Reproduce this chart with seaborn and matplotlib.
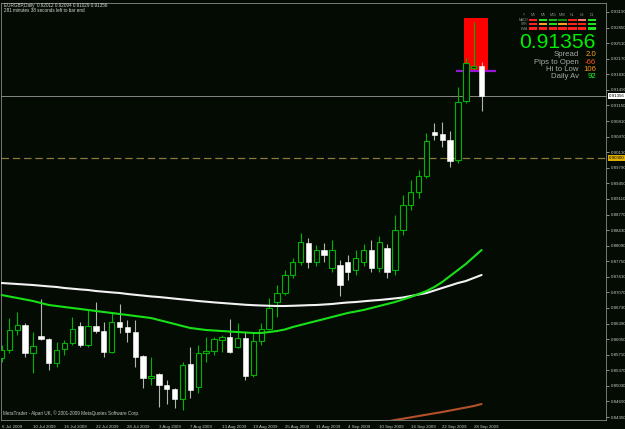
import matplotlib
matplotlib.use("Agg")
import matplotlib.pyplot as plt
from matplotlib.patches import Rectangle
import numpy as np
import pandas as pd
import seaborn as sns

# ---------------- data ----------------
title_text = "EURGBP,Daily  0.92012 0.92094 0.91029 0.91356"
timer_text = "281 minutes 38 seconds left to bar end"
copyright_text = "MetaTrader - Alpari UK, \u00a9 2001-2009 MetaQuotes Software Corp."

date_labels = ["6 Jul 2009", "10 Jul 2009", "16 Jul 2009", "22 Jul 2009", "28 Jul 2009",
               "3 Aug 2009", "7 Aug 2009", "13 Aug 2009", "19 Aug 2009", "25 Aug 2009",
               "31 Aug 2009", "4 Sep 2009", "10 Sep 2009", "16 Sep 2009", "22 Sep 2009",
               "28 Sep 2009"]
date_label_bars = [0, 4, 8, 12, 16, 20, 24, 28, 32, 36, 40, 44, 48, 52, 56, 60]

price_labels = ["0.93190", "0.92850", "0.92510", "0.92170", "0.91830", "0.91490", "0.91150",
                "0.90810", "0.90470", "0.90130", "0.89790", "0.89450", "0.89110", "0.88770",
                "0.88430", "0.88090", "0.87750", "0.87410", "0.87070", "0.86730", "0.86390",
                "0.86050", "0.85710", "0.85370", "0.85030", "0.84690", "0.84350"]

opens = [0.85638, 0.85812, 0.86249, 0.86358, 0.85747, 0.86118, 0.86053, 0.85529, 0.85834, 0.85965,
         0.86336, 0.85922, 0.86336, 0.86227, 0.85768, 0.86423, 0.86314, 0.86205, 0.85681, 0.85201,
         0.85289, 0.85049, 0.84961, 0.84743, 0.85507, 0.85005, 0.85747, 0.85790, 0.86031, 0.86096,
         0.85878, 0.86075, 0.85267, 0.86009, 0.86271, 0.86860, 0.87057, 0.87450, 0.87733, 0.88147,
         0.87733, 0.87995, 0.87602, 0.87668, 0.87733, 0.87559, 0.87733, 0.87995, 0.87602, 0.88039,
         0.87559, 0.88432, 0.88977, 0.89261, 0.89610, 0.90571, 0.90527, 0.90396, 0.89960, 0.91248,
         0.91960, 0.92012]
highs = [0.85922, 0.86511, 0.86642, 0.86402, 0.86205, 0.86926, 0.86075, 0.85987, 0.86031, 0.86532,
         0.86423, 0.86686, 0.86860, 0.86423, 0.86621, 0.86817, 0.86467, 0.86467, 0.85703, 0.85659,
         0.85311, 0.85158, 0.84983, 0.85550, 0.85878, 0.85922, 0.86096, 0.86096, 0.86140, 0.86489,
         0.86402, 0.86205, 0.86184, 0.86402, 0.86948, 0.87231, 0.87559, 0.87820, 0.88366, 0.88257,
         0.88104, 0.88147, 0.88213, 0.87777, 0.87886, 0.87995, 0.88126, 0.88213, 0.88300, 0.88126,
         0.88759, 0.89196, 0.89523, 0.89741, 0.90549, 0.90767, 0.90789, 0.90593, 0.91553, 0.92186,
         0.92972, 0.92094]
lows = [0.85550, 0.85747, 0.86140, 0.85659, 0.85311, 0.86031, 0.85376, 0.85441, 0.85703, 0.85922,
        0.85878, 0.85878, 0.86184, 0.85659, 0.85747, 0.86184, 0.85987, 0.85441, 0.84983, 0.85049,
        0.84569, 0.84634, 0.84547, 0.84503, 0.84765, 0.84874, 0.85550, 0.85703, 0.85768, 0.85747,
        0.85856, 0.85158, 0.85223, 0.85922, 0.86249, 0.86532, 0.87013, 0.87384, 0.87668, 0.87602,
        0.87646, 0.87733, 0.87515, 0.86991, 0.87340, 0.87450, 0.87646, 0.87515, 0.87515, 0.87384,
        0.87450, 0.88323, 0.88868, 0.89130, 0.89567, 0.90396, 0.90244, 0.89807, 0.89894, 0.91204,
        0.91924, 0.91029]
closes = [0.85812, 0.86249, 0.86358, 0.85747, 0.85900, 0.86053, 0.85529, 0.85812, 0.85965, 0.86271,
          0.85922, 0.86336, 0.86227, 0.85768, 0.86423, 0.86314, 0.86205, 0.85659, 0.85201, 0.85245,
          0.85049, 0.84961, 0.84743, 0.85485, 0.84939, 0.85747, 0.85790, 0.86053, 0.86096, 0.85768,
          0.86075, 0.85245, 0.86009, 0.86271, 0.86729, 0.87057, 0.87450, 0.87733, 0.88169, 0.87733,
          0.87995, 0.87886, 0.87995, 0.87231, 0.87515, 0.87820, 0.87995, 0.87602, 0.88169, 0.87515,
          0.88432, 0.88977, 0.89261, 0.89610, 0.90375, 0.90506, 0.90396, 0.89938, 0.91226, 0.92077,
          0.92012, 0.91356]

ma_slow = [0.87275, 0.87264, 0.87253, 0.87242, 0.87231, 0.87216, 0.87201, 0.87188, 0.87166, 0.87151,
           0.87135, 0.87122, 0.87100, 0.87085, 0.87070, 0.87057, 0.87035, 0.87017, 0.87000, 0.86982,
           0.86969, 0.86952, 0.86934, 0.86917, 0.86900, 0.86882, 0.86867, 0.86852, 0.86839, 0.86826,
           0.86813, 0.86800, 0.86791, 0.86784, 0.86778, 0.86773, 0.86773, 0.86778, 0.86784, 0.86791,
           0.86795, 0.86806, 0.86817, 0.86835, 0.86850, 0.86860, 0.86876, 0.86891, 0.86904, 0.86921,
           0.86939, 0.86958, 0.86991, 0.87024, 0.87057, 0.87111, 0.87166, 0.87220, 0.87275, 0.87318,
           0.87384, 0.87450]
ma_fast = [0.87013, 0.86980, 0.86948, 0.86915, 0.86882, 0.86839, 0.86795, 0.86773, 0.86751, 0.86729,
           0.86708, 0.86686, 0.86664, 0.86642, 0.86621, 0.86599, 0.86577, 0.86555, 0.86533, 0.86511,
           0.86467, 0.86424, 0.86380, 0.86336, 0.86293, 0.86271, 0.86249, 0.86238, 0.86227, 0.86216,
           0.86205, 0.86195, 0.86184, 0.86184, 0.86205, 0.86227, 0.86260, 0.86314, 0.86358, 0.86402,
           0.86445, 0.86489, 0.86533, 0.86577, 0.86621, 0.86653, 0.86686, 0.86729, 0.86773, 0.86817,
           0.86860, 0.86915, 0.86969, 0.87035, 0.87100, 0.87188, 0.87297, 0.87428, 0.87559, 0.87690,
           0.87843, 0.87995]
ma_long_bars = [44, 45, 46, 47, 48, 49, 50, 51, 52, 53, 54, 55, 56, 57, 58, 59, 60, 61]
ma_long = [0.84132, 0.84154, 0.84176, 0.84197, 0.84219, 0.84252, 0.84285, 0.84313, 0.84342,
           0.84372, 0.84401, 0.84431, 0.84459, 0.84492, 0.84525, 0.84557, 0.84590, 0.84634]

bid_price = 0.91356
bid_label = "0.91356"
level_price = 0.90000
level_label = "0.90000"
range_box_bars = (58.77, 61.82)
range_box_prices = (0.91880, 0.93059)
pivot_bars = (57.75, 62.8)
pivot_price = 0.91902

tf_labels = ["M1", "M5", "M15", "M30", "H1", "H4", "D1"]
ind_rows = ["MACD", "STR", "EMA"]
ind_colors = [["#ff2020", "#20e020", "#18b818", "#108c10", "#ff2020", "#ff7a6a", "#20e020"],
              ["#ff2020", "#ffa020", "#20e020", "#ffa020", "#ff2020", "#ff2020", "#20e020"],
              ["#ff2020", "#ff2020", "#ff2020", "#ff2020", "#ff2020", "#ff2020", "#20e020"]]
stat_names = ["Spread", "Pips to Open", "Hi to Low", "Daily Av"]
stat_values = ["2.0", "-66", "106", "92"]
stat_colors = ["#ffa030", "#ff5020", "#ff8c1a", "#20ff20"]

# ---------------- style ----------------
bg = "#030b03"
sns.set_theme(style="dark")
plt.rcParams["font.family"] = ["Liberation Sans", "DejaVu Sans"]

fig = plt.figure(figsize=(6.25, 4.29), dpi=100, facecolor=bg)
W, H = 625.0, 429.0
ax = fig.add_axes([1 / W, 9 / H, 605 / W, 417 / H], facecolor=bg)

x = np.arange(len(opens))
o = np.array(opens); h = np.array(highs); l = np.array(lows); c = np.array(closes)
bull = c >= o
green_c = "#00b400"

ax.add_patch(Rectangle((range_box_bars[0], range_box_prices[0]),
                       range_box_bars[1] - range_box_bars[0],
                       range_box_prices[1] - range_box_prices[0],
                       facecolor="#ff0000", edgecolor="none", zorder=1.2))

ax.axhline(bid_price, color="#9a9a9a", lw=0.6, zorder=1)
ax.axhline(level_price, color="#8c7a3c", lw=0.9, dashes=(6, 3), zorder=1)

ax.vlines(x[bull], l[bull], h[bull], color=green_c, lw=0.8, zorder=2)
ax.vlines(x[~bull], l[~bull], h[~bull], color="#b4b4b4", lw=0.8, zorder=2)
ax.hlines(pivot_price, pivot_bars[0], pivot_bars[1], color="#9a14d8", lw=1.6, zorder=2.5)
ax.bar(x[bull], (c - o)[bull], bottom=o[bull], width=0.68, facecolor=bg,
       edgecolor=green_c, linewidth=0.8, zorder=3)
ax.bar(x[~bull], (o - c)[~bull], bottom=c[~bull], width=0.68, facecolor="white",
       edgecolor="white", linewidth=0.4, zorder=3)

df = pd.DataFrame({"bar": x, "slow": ma_slow, "fast": ma_fast})
sns.lineplot(data=df, x="bar", y="slow", ax=ax, color="#f2f2f2", lw=1.5, zorder=4)
sns.lineplot(data=df, x="bar", y="fast", ax=ax, color="#18e018", lw=1.5, zorder=4)
sns.lineplot(x=ma_long_bars, y=ma_long, ax=ax, color="#b4502a", lw=1.5, zorder=4)
ax.set_xlabel("")
ax.set_ylabel("")

ax.set_xlim(-0.064, 76.81)
ax.set_ylim(0.84285, 0.93386)
ax.grid(False)

ax.yaxis.tick_right()
ax.set_yticks([float(s) for s in price_labels])
ax.set_yticklabels(price_labels)
ax.tick_params(axis="y", colors="#c8c8c8", labelsize=3.2, length=2, width=0.5, pad=1.2)
ax.set_xticks(date_label_bars)
ax.set_xticklabels(date_labels, ha="left")
ax.tick_params(axis="x", colors="#c8c8c8", labelsize=3.2, length=2.5, width=0.5, pad=1)
for s in ax.spines.values():
    s.set_color("#8a8a8a")
    s.set_linewidth(0.6)

ax.annotate(bid_label, xy=(1.0, bid_price), xycoords=("axes fraction", "data"),
            xytext=(2, 0), textcoords="offset points", fontsize=3.2, color="black",
            va="center", ha="left", annotation_clip=False,
            bbox=dict(boxstyle="square,pad=0.15", fc="white", ec="none"))
ax.annotate(level_label, xy=(1.0, level_price), xycoords=("axes fraction", "data"),
            xytext=(2, 0), textcoords="offset points", fontsize=3.2, color="black",
            va="center", ha="left", annotation_clip=False,
            bbox=dict(boxstyle="square,pad=0.15", fc="#e0b000", ec="none"))

# ---------------- overlay (pixel coordinates) ----------------
ov = fig.add_axes([0, 0, 1, 1])
ov.set_xlim(0, W)
ov.set_ylim(H, 0)
ov.axis("off")
ov.patch.set_alpha(0)

ov.text(4, 6, title_text, fontsize=3.3, color="#d8d8d8", va="center", ha="left")
ov.text(4, 11, timer_text, fontsize=3.3, color="#d8d8d8", va="center", ha="left")
ov.text(3, 413, copyright_text, fontsize=3.3, color="#c8c8c8", va="center", ha="left")

col_x = [533.3, 543.2, 552.9, 562.5, 572.5, 581.9, 591.9]
row_y = [20.2, 24.0, 28.7]
ov.text(524, 15, "!!!", fontsize=2.6, color="#909090", ha="center", va="center")
for cx, t in zip(col_x, tf_labels):
    ov.text(cx, 15, t, fontsize=2.6, color="#909090", ha="center", va="center")
for ry, name, cols in zip(row_y, ind_rows, ind_colors):
    ov.text(524, ry, name, fontsize=2.4, color="#909090", ha="center", va="center")
    for cx, col in zip(col_x, cols):
        ov.add_patch(Rectangle((cx - 4.1, ry - 1.3), 8.2, 2.6, facecolor=col, edgecolor="none"))

ov.text(596, 48.5, bid_label, fontsize=15.2, color="#00ee00", ha="right", va="baseline")
stat_y = [54.5, 62.2, 69.5, 77.0]
for sy, name, val, col in zip(stat_y, stat_names, stat_values, stat_colors):
    ov.text(579, sy, name, fontsize=5.6, color="#a8a8a8", ha="right", va="center")
    ov.text(596, sy, val, fontsize=5.6, color=col, ha="right", va="center")

fig.savefig("out.png", dpi=100, facecolor=bg)
